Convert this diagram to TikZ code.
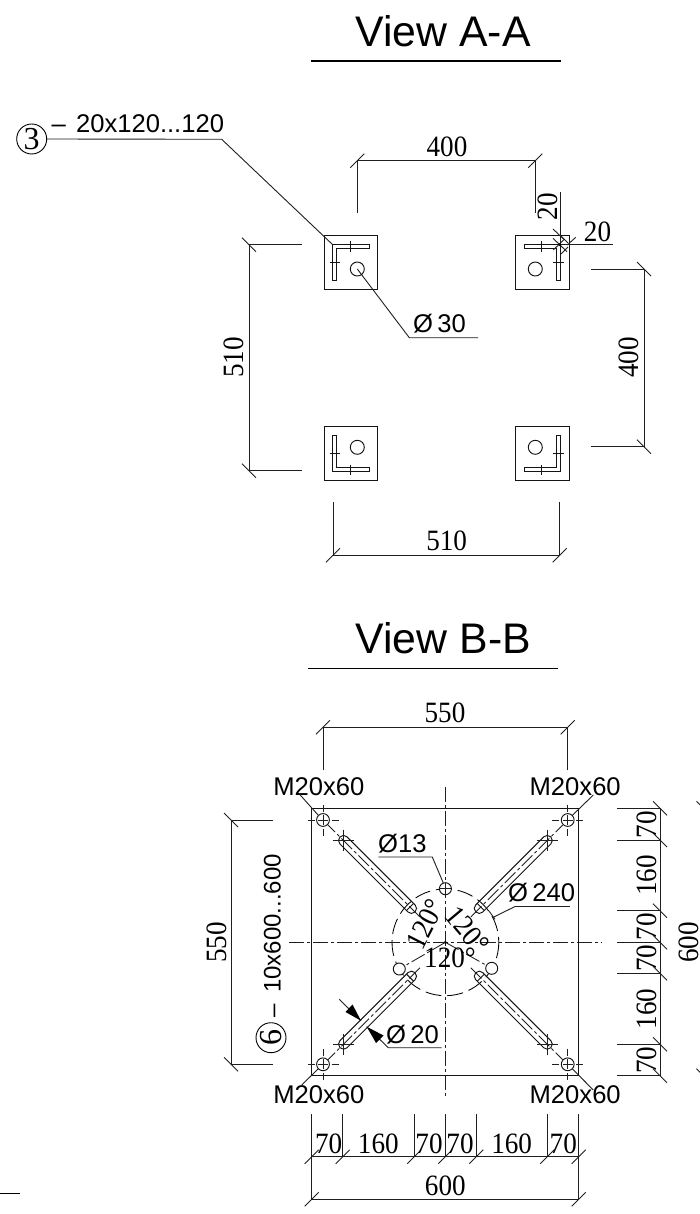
\documentclass[tikz,border=0pt]{standalone}
\usepackage{fontspec}
\setmainfont{Liberation Sans}
\newfontfamily\dimfam[FakeStretch=0.92]{Liberation Serif}
\newfontfamily\circfam{Liberation Serif}
\newfontfamily\sansfam{Liberation Sans}
\newcommand{\dimf}{\dimfam\fontsize{29.5}{30}\selectfont}
\newcommand{\labf}{\sansfam\fontsize{25.6}{26}\selectfont}
\newcommand{\labsmf}{\sansfam\fontsize{24}{25}\selectfont}
\newcommand{\titf}{\sansfam\fontsize{42.8}{44}\selectfont}
\newcommand{\slashtick}[2]{\draw[dimline] (#1,#2) ++(-7,7) -- ++(14,-14);}
\newcommand{\backtick}[2]{\draw[dimline] (#1,#2) ++(-7,-7) -- ++(14,14);}
\tikzset{
  dimline/.style={line width=0.9pt,draw=black!88},
  part/.style={line width=0.95pt,draw=black!92},
  centerl/.style={line width=0.85pt,draw=black!88,dash pattern=on 15pt off 3pt on 3pt off 3pt},
  dimt/.style={anchor=base,inner sep=0pt,font=\dimf},
  labt/.style={anchor=base,inner sep=0pt,font=\labf},
  titt/.style={anchor=base,inner sep=0pt,font=\titf},
  callout/.style={circle,draw=black,line width=0.9pt,inner sep=0pt,minimum size=30pt,font=\circfam\fontsize{32}{33}\selectfont},
}
\begin{document}
\begin{tikzpicture}[x=1pt,y=-1pt]
\useasboundingbox (0,0) rectangle (700,1214);
\fill[white] (0,0) rectangle (700,1214);

% ---------- View A-A ----------
\node[titt] (titleA) at (443,47) {View A-A};
\draw[line width=1.1pt] (311,61) -- (561,61);

% plates
\draw[part] (324.3,235.7) rectangle (377.7,289.3);
\draw[part] (515.3,235.7) rectangle (569,289.3);
\draw[part] (324.3,426.7) rectangle (377.7,480.3);
\draw[part] (515.3,426.7) rectangle (569,480.3);
% angles
\draw[part] (332.5,244.5) -- (369,244.5) -- (369,248.3) -- (336.2,248.3) -- (336.2,280.5) -- (332.5,280.5) -- cycle;
\draw[part] (560,244.7) -- (524,244.7) -- (524,248.3) -- (556.4,248.3) -- (556.4,280.5) -- (560,280.5) -- cycle;
\draw[part] (332.5,471.3) -- (369,471.3) -- (369,467.7) -- (336.2,467.7) -- (336.2,435.3) -- (332.5,435.3) -- cycle;
\draw[part] (560,471.3) -- (524,471.3) -- (524,467.7) -- (556.4,467.7) -- (556.4,435.3) -- (560,435.3) -- cycle;
% angle ticks
\draw[part] (350.7,241) -- (350.7,251.7) (329.5,262.3) -- (340,262.3);
\draw[part] (541.7,241) -- (541.7,251.7) (553,262.3) -- (563.7,262.3);
\draw[part] (350.7,464.5) -- (350.7,475) (329.5,453.3) -- (340,453.3);
\draw[part] (541.7,464.5) -- (541.7,475) (553,453.3) -- (563.7,453.3);
% holes
\draw[part] (357.3,269) circle (7);
\draw[part] (535.3,269) circle (7);
\draw[part] (357.3,447.3) circle (7);
\draw[part] (535.3,447.3) circle (7);

% callout 3
\node[callout] (c3) at (31.7,139) {3};
\draw[dimline] (c3.east) -- (221.7,139.3) -- (332.5,244.5);
\node[labt,anchor=base west] (t3) at (51.5,132.7) {–\hspace{3pt} 20x120...120};

% dia 30
\coordinate (h30) at (357.3,269);
\draw[dimline] (h30) -- (409.3,337.7) -- (478,337.7);
\node[labt,anchor=base west] (t30) at (413,332) {Ø\,30};

% dim 400 top
\draw[dimline] (357.3,213.3) -- (357.3,160.7) -- (535.3,160.7) -- (535.3,212.7);
\slashtick{357.3}{160.7}\slashtick{535.3}{160.7}
\node[dimt] (d400a) at (447,156.5) {400};

% dim 20 / 20
\draw[dimline] (560,191.7) -- (560,245);
\draw[dimline] (560,244.7) -- (613.3,244.7);
\draw[dimline] (553,229) -- (564,239.5);
\draw[dimline] (553.3,250) -- (563.5,240);
\draw[dimline] (553,238.3) -- (567,251.7);
\draw[dimline] (567.3,245) -- (575.7,237.3);
\draw[dimline] (561,236) -- (568,243);
\draw[dimline] (561,254) -- (568,247);
\fill (560,244.7) circle (1.6);
\node[dimt,rotate=90] (d20a) at (557,206.5) {20};
\node[dimt] (d20b) at (597.5,241.5) {20};

% dim 510 left
\draw[dimline] (301.7,244.7) -- (249,244.7) -- (249,470.7) -- (301.7,470.7);
\backtick{249}{244.7}\backtick{249}{470.7}
\node[dimt,rotate=90] (d510l) at (243.5,357.5) {510};

% dim 400 right
\draw[dimline] (591,269) -- (644,269) -- (644,446.7) -- (591,446.7);
\backtick{644}{269}\backtick{644}{446.7}
\node[dimt,rotate=90] (d400r) at (638,357.5) {400};

% dim 510 bottom
\draw[dimline] (333,502.3) -- (333,555.3) -- (559.7,555.3) -- (559.7,502.3);
\slashtick{333}{555.3}\slashtick{559.7}{555.3}
\node[dimt] (d510b) at (446.7,550.5) {510};

% ---------- View B-B ----------
\node[titt] (titleB) at (443.3,653.3) {View B-B};
\draw[line width=1.1pt] (308.3,668.7) -- (558,668.7);

% dim 550 top
\draw[dimline] (323,770) -- (323,727.3) -- (567.7,727.3) -- (567.7,770);
\slashtick{323}{727.3}\slashtick{567.7}{727.3}
\node[dimt] (d550t) at (445,722.3) {550};

% base plate
\draw[part,line width=1.1pt] (311.7,808.3) rectangle (578.7,1075.7);

% centre lines
\draw[centerl] (289.3,942.3) -- (601.7,942.3);
\draw[centerl] (445.4,786.7) -- (445.4,1098);
\fill (445.4,942.3) circle (1.6);

% pitch circle
\draw[line width=0.85pt,dash pattern=on 16pt off 6pt] (445.4,942.3) circle (53.4);

% slots
\foreach \a in {45,135,225,315}{
  \begin{scope}[shift={(445.4,942.3)},rotate=\a]
    \draw[part] [rounded corners=4.8pt] (43,-5) rectangle (149,5);
    \draw[centerl] (36,0) -- (166,0);
    \draw[part] (50,-5) -- (50,5);
  \end{scope}
}
% slot-end crosses
\foreach \cx/\cy in {343.3/840,547.5/840,343.3/1044.3,547.5/1044.3}{
  \draw[dimline] (\cx-10.5,\cy) -- (\cx+10.5,\cy) (\cx,\cy-10.5) -- (\cx,\cy+10.5);
}
% bolt holes
\foreach \cx/\cy in {323/820,567.7/820,323/1064.3,567.7/1064.3}{
  \fill[white] (\cx,\cy) circle (6.4);
  \draw[part] (\cx,\cy) circle (6.4);
  \draw[dimline] (\cx-5,\cy) -- (\cx+5,\cy) (\cx,\cy-5) -- (\cx,\cy+5);
  \draw[dimline] (\cx-15.5,\cy) -- (\cx-8.5,\cy) (\cx+8.5,\cy) -- (\cx+15.5,\cy)
                 (\cx,\cy-15.5) -- (\cx,\cy-8.5) (\cx,\cy+8.5) -- (\cx,\cy+15.5);
}
% small holes on pitch circle
\draw[centerl] (445.4,942.3) -- (399.3,969);
\draw[centerl] (445.4,942.3) -- (491.7,968.3);
\foreach \cx/\cy in {399.3/969,491.7/968.3,445.4/888.7}{
  \fill[white] (\cx,\cy) circle (6);
  \draw[part] (\cx,\cy) circle (6);
}
\draw[dimline] (439.4,888.7) -- (451.4,888.7) (445.4,882.7) -- (445.4,894.7);

% 120 labels
\node[dimt,rotate=63] (a1) at (434,928.5) {120°};
\node[dimt,rotate=-50] (a2) at (460,936) {120°};
\node[dimt] (a3) at (450,967.7) {120°};

% M20x60 labels and leaders
\node[labt] (m1) at (318.8,795) {M20x60};
\node[labt] (m2) at (575.2,795) {M20x60};
\node[labt] (m3) at (318.8,1103.3) {M20x60};
\node[labt] (m4) at (575.2,1103.3) {M20x60};
\draw[dimline] (298.7,793.3) -- (318.5,815.5);
\draw[dimline] (593.3,795) -- (572,815.7);
\draw[dimline] (301.7,1085) -- (318.5,1068.5);
\draw[dimline] (593.3,1090) -- (572,1068.5);

% dia 13
\draw[dimline] (378.3,857) -- (432.3,857) -- (443.3,883);
\node[labt,anchor=base west] (t13) at (378,852.5) {Ø13};

% dia 240
\draw[dimline] (515,906) -- (570,906);
\draw[dimline] (515,906.5) -- (493.3,917.3);
\draw[dimline] (489,911) -- (495,919.3);
\node[labt,anchor=base west] (t240) at (508,901) {Ø\,240};

% dia 20
\draw[dimline] (441.7,1047.7) -- (388.3,1047.7) -- (366.7,1026.7);
\draw[dimline] (339.3,999.3) -- (361,1020.7);
\fill (361,1020.7) -- (345.5,1012) -- (352.5,1004.5) -- cycle;
\fill (366.7,1026.7) -- (383.5,1035.5) -- (376,1043) -- cycle;
\node[labt,anchor=base west] (t20) at (386,1043.3) {Ø\,20};

% dim 550 left
\draw[dimline] (273.3,820) -- (231,820) -- (231,1064.3) -- (273.3,1064.3);
\backtick{231}{820}\backtick{231}{1064.3}
\node[dimt,rotate=90] (d550l) at (226,942.3) {550};

% callout 6 with plate text
\node[callout,rotate=90] (c6) at (271,1037.7) {6};
\node[labt,font=\labsmf,rotate=90,anchor=base west] (t6) at (280.5,1018) {–\hspace{5pt} 10x600...600};

% right chain
\foreach \yy in {808.3,840,910.7,942.3,973.3,1044.3,1075.7}{
  \draw[dimline] (617.3,\yy) -- (660,\yy);
  \backtick{660}{\yy}
}
\draw[dimline] (660,808.3) -- (660,1075.7);
\node[dimt,rotate=90] (r1) at (656.5,824.5) {70};
\node[dimt,rotate=90] (r2) at (656.5,875.5) {160};
\node[dimt,rotate=90] (r3) at (656.5,926.5) {70};
\node[dimt,rotate=90] (r4) at (656.5,958) {70};
\node[dimt,rotate=90] (r5) at (656.5,1009) {160};
\node[dimt,rotate=90] (r6) at (656.5,1060) {70};
% right overall
\backtick{703.5}{808.3}\backtick{703.5}{1075.7}
\node[dimt,rotate=90] (r7) at (698,942.3) {600};

% bottom chain
\foreach \xx in {311.7,342.7,414.3,445.3,476.3,547.3,578.7}{
  \draw[dimline] (\xx,1114) -- (\xx,1156.7);
  \slashtick{\xx}{1156.7}
}
\draw[dimline] (311.7,1156.7) -- (578.7,1156.7);
\node[dimt] (b1) at (328.7,1153.3) {70};
\node[dimt] (b2) at (378.3,1153.3) {160};
\node[dimt] (b3) at (429,1153.3) {70};
\node[dimt] (b4) at (460,1153.3) {70};
\node[dimt] (b5) at (511.7,1153.3) {160};
\node[dimt] (b6) at (563.3,1153.3) {70};
% bottom overall
\draw[dimline] (311.7,1156.7) -- (311.7,1199.3) -- (578.7,1199.3) -- (578.7,1156.7);
\slashtick{311.7}{1199.3}\slashtick{578.7}{1199.3}
\node[dimt] (b7) at (445.3,1195) {600};

% stray line at the left edge
\draw[line width=1.1pt] (0,1193.7) -- (20,1193.7);
\end{tikzpicture}
\end{document}
